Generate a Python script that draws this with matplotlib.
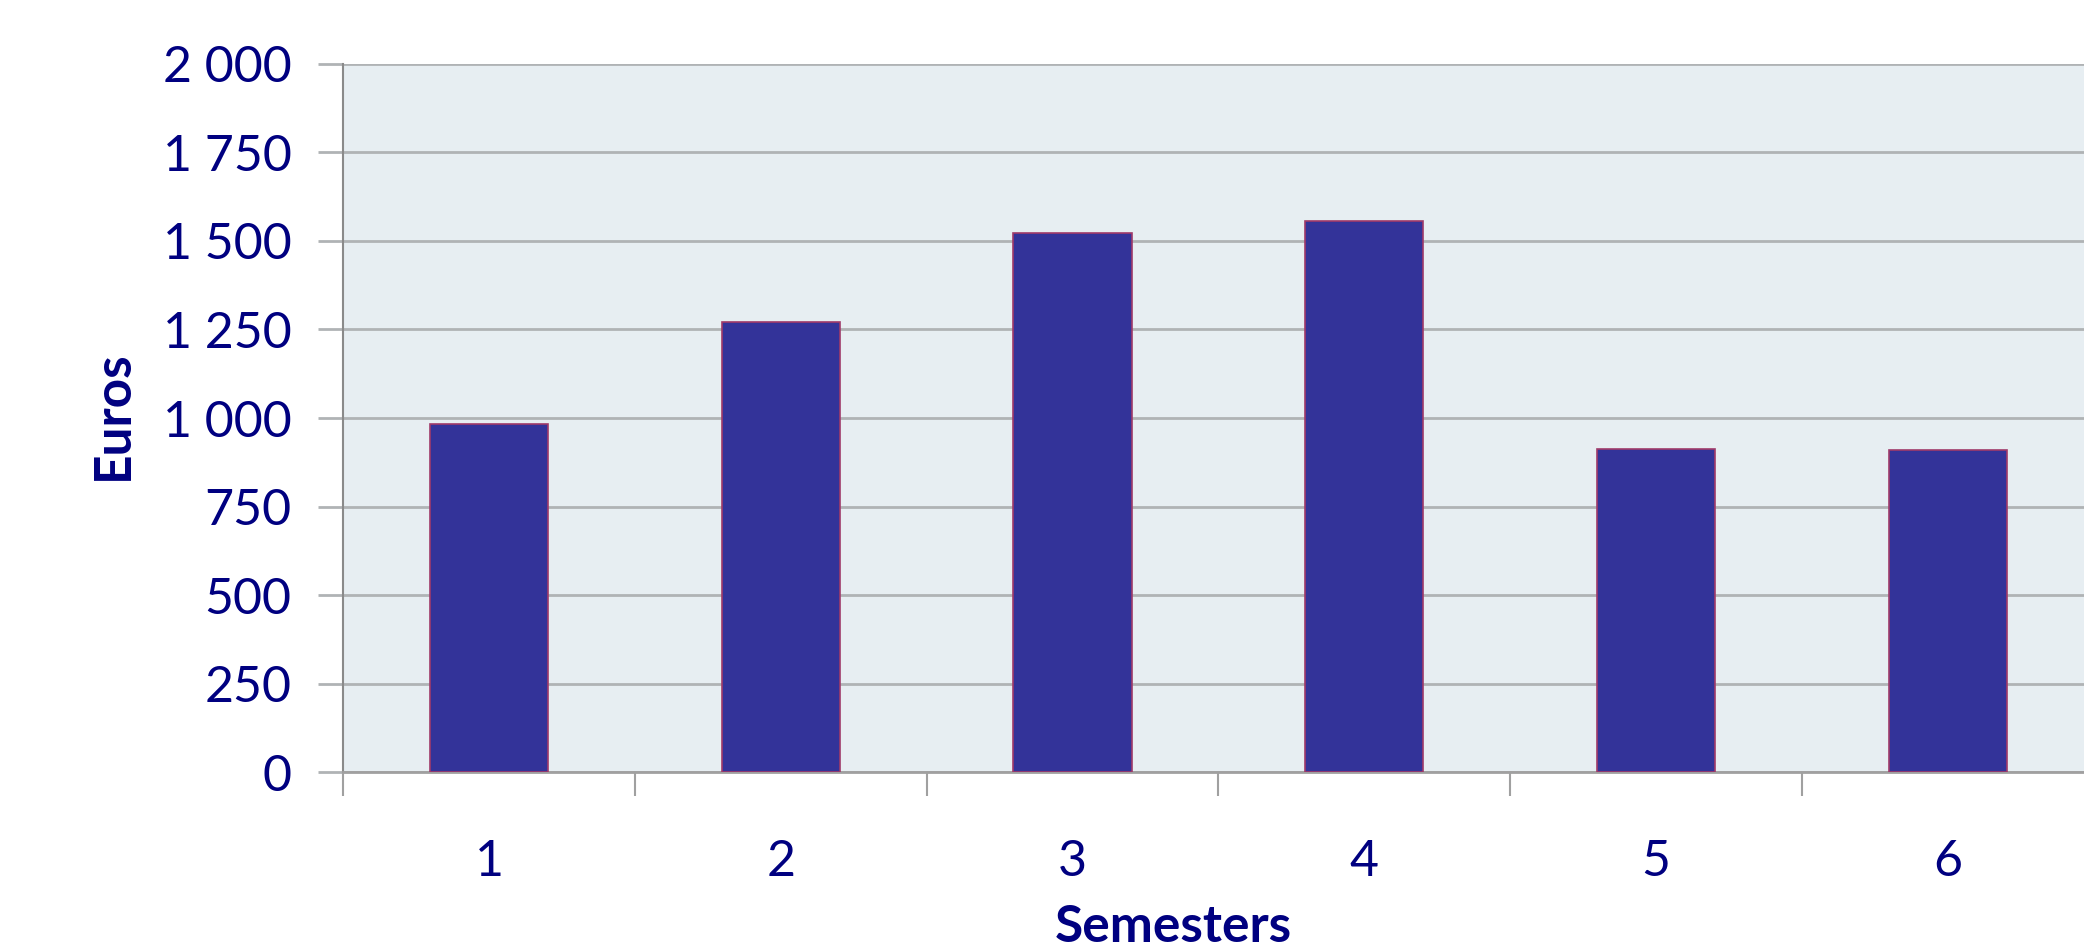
import matplotlib.pyplot as plt
from matplotlib.ticker import FuncFormatter

# Montants par semestre
semesters = ['1', '2', '3', '4', '5', '6']
euros = [982, 1272, 1521, 1557, 912, 911]

navy = '#000080'
plt.rcParams['font.family'] = ['Lato', 'DejaVu Sans']

fig = plt.figure(figsize=(20.84, 9.49), dpi=100)
ax = fig.add_axes([0.1646, 0.1862, 0.840, 0.7466])
ax.set_facecolor('#E7EEF2')

x = range(len(semesters))
ax.bar(x, euros, width=0.405, color='#333399', edgecolor='#A03A6A', linewidth=1.2, zorder=3)

ax.set_xlim(-0.5, len(semesters) - 0.5)
ax.set_ylim(0, 2000)

# grille horizontale
ax.set_yticks(range(0, 2001, 250))
ax.yaxis.set_major_formatter(FuncFormatter(lambda v, p: f'{int(v):,}'.replace(',', ' ')))
ax.grid(axis='y', color='#B0B3B5', linewidth=2, zorder=1)
ax.tick_params(axis='y', length=18, width=2, color='#B0B3B5', pad=19,
               labelsize=36, labelcolor=navy)

# graduations entre les catégories, étiquettes au centre
ax.set_xticks([i - 0.5 for i in range(len(semesters) + 1)])
ax.set_xticklabels([])
ax.set_xticks(list(x), minor=True)
ax.set_xticklabels(semesters, minor=True)
ax.tick_params(axis='x', which='major', length=17, width=1.5, color='#A0A0A0')
ax.tick_params(axis='x', which='minor', length=0, pad=48, labelsize=36, labelcolor=navy)

for s in ['top', 'right']:
    ax.spines[s].set_visible(False)
ax.spines['left'].set_color('#8A8A8A')
ax.spines['left'].set_linewidth(1.5)
ax.spines['bottom'].set_color('#A0A0A0')
ax.spines['bottom'].set_linewidth(2)

fig.text(113 / 2084, 1 - 415 / 949, 'Euros', rotation=90, ha='center', va='center',
         fontsize=37, fontweight='bold', color=navy)
fig.text(1173 / 2084, 1 - 928 / 949, 'Semesters', ha='center', va='center',
         fontsize=37, fontweight='bold', color=navy)

fig.savefig('out.png', dpi=100)
